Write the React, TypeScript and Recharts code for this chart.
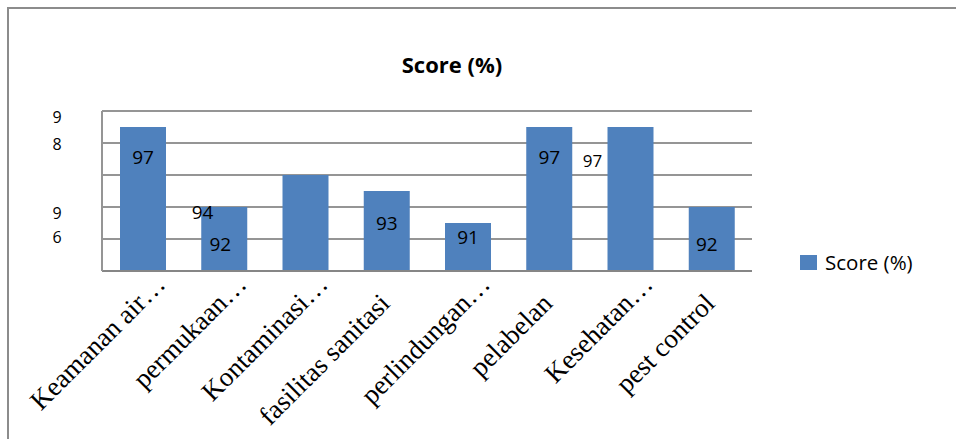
import React from 'react';
import { BarChart, Bar, XAxis, YAxis, CartesianGrid, LabelList, Legend } from 'recharts';

const categories = [
  'Keamanan air…',
  'permukaan…',
  'Kontaminasi…',
  'fasilitas sanitasi',
  'perlindungan…',
  'pelabelan',
  'Kesehatan…',
  'pest control',
];
const scores = [97, 92, 94, 93, 91, 97, 97, 92];
const yTicks = [88, 90, 92, 94, 96, 98];
const yTickLabels: Record<number, string> = { 98: '9', 96: '8', 92: '9', 90: '6' };
const seriesName = 'Score (%)';
const chartTitle = 'Score (%)';

const data = categories.map((name, i) => ({ name, score: scores[i] }));

// label styling (offsets from top centre of each bar, font sizes)
const labelDx = [0, -4, -103, 0, 0, 0, -38, -5];
const labelDy = [30, 37, 37, 32, 14, 30, 33, 37];
const labelSize = [19, 19, 19, 19, 19, 19, 17, 19];
const yLabelDy: Record<number, number> = { 98: 6, 96: 1, 92: 6, 90: -2 };

const BAR = '#4F81BD';
const GRID = '#959595';
const SANS = "'Open Sans', 'Noto Sans', sans-serif";
const SERIF = "'Liberation Serif', 'DejaVu Serif', serif";

const XTick = (props: any) => {
  const { x, y, payload } = props;
  const raw: string = String(payload.value);
  const hasEll = raw.endsWith('…');
  const main = hasEll ? raw.slice(0, -1) : raw;
  const px = x + 5;
  const py = y + 34;
  return (
    <g transform={`rotate(-45, ${px}, ${py})`}>
      <text x={px} y={py} textAnchor="end" fontFamily={SERIF} fontSize={27} fill="#000">
        {main}
      </text>
      {hasEll && (
        <text x={px} y={py} textAnchor="start" fontFamily={SERIF} fontSize={27} fill="#000">
          …
        </text>
      )}
    </g>
  );
};

const YTick = (props: any) => {
  const { y, payload } = props;
  const v = payload.value as number;
  const label = yTickLabels[v];
  if (!label) return null;
  return (
    <text x={57} y={y + (yLabelDy[v] || 0)} textAnchor="middle" dominantBaseline="central" fontFamily={SANS} fontSize={16} fill="#000">
      {label}
    </text>
  );
};

const BarLabel = (props: any) => {
  const { x, y, width, value, index } = props;
  return (
    <text
      x={x + width / 2 + labelDx[index]}
      y={y + labelDy[index]}
      textAnchor="middle"
      dominantBaseline="central"
      fontFamily={SANS}
      fontSize={labelSize[index]}
      fill="#000"
    >
      {value}
    </text>
  );
};

const LegendContent = () => (
  <div style={{ display: 'flex', alignItems: 'center', fontFamily: SANS, fontSize: 20.5, color: '#000' }}>
    <div style={{ width: 17, height: 15, background: BAR, marginRight: 8 }} />
    <span>{seriesName}</span>
  </div>
);

export default function App() {
  return (
    <div style={{ position: 'absolute', left: 0, top: 0, width: 956, height: 439, background: '#fff', overflow: 'hidden' }}>
      <div
        style={{
          position: 'absolute',
          left: 7,
          top: 7,
          width: 960,
          height: 450,
          borderTop: '2px solid #8c8c8c',
          borderLeft: '2px solid #8c8c8c',
        }}
      />
      <div
        style={{
          position: 'absolute',
          left: 352,
          width: 200,
          top: 49,
          textAlign: 'center',
          fontFamily: SANS,
          fontWeight: 700,
          fontSize: 22,
          color: '#000',
        }}
      >
        {chartTitle}
      </div>
      <BarChart
        width={956}
        height={439}
        data={data}
        margin={{ top: 111, right: 204, bottom: 0, left: 0 }}
        barSize={46}
      >
        <CartesianGrid horizontal vertical={false} stroke={GRID} strokeWidth={2} />
        <XAxis
          dataKey="name"
          height={168}
          interval={0}
          tickLine={false}
          tickSize={0}
          tickMargin={0}
          axisLine={{ stroke: '#868686', strokeWidth: 2 }}
          tick={<XTick />}
        />
        <YAxis
          width={102}
          domain={[88, 98]}
          ticks={yTicks}
          allowDataOverflow
          tickLine={false}
          axisLine={{ stroke: GRID, strokeWidth: 2 }}
          tick={<YTick />}
        />
        <Legend
          layout="horizontal"
          verticalAlign="middle"
          align="center"
          wrapperStyle={{ left: 800, top: 248, width: 150 }}
          content={<LegendContent />}
        />
        <Bar dataKey="score" name={seriesName} fill={BAR} isAnimationActive={false}>
          <LabelList dataKey="score" content={<BarLabel />} />
        </Bar>
      </BarChart>
    </div>
  );
}
